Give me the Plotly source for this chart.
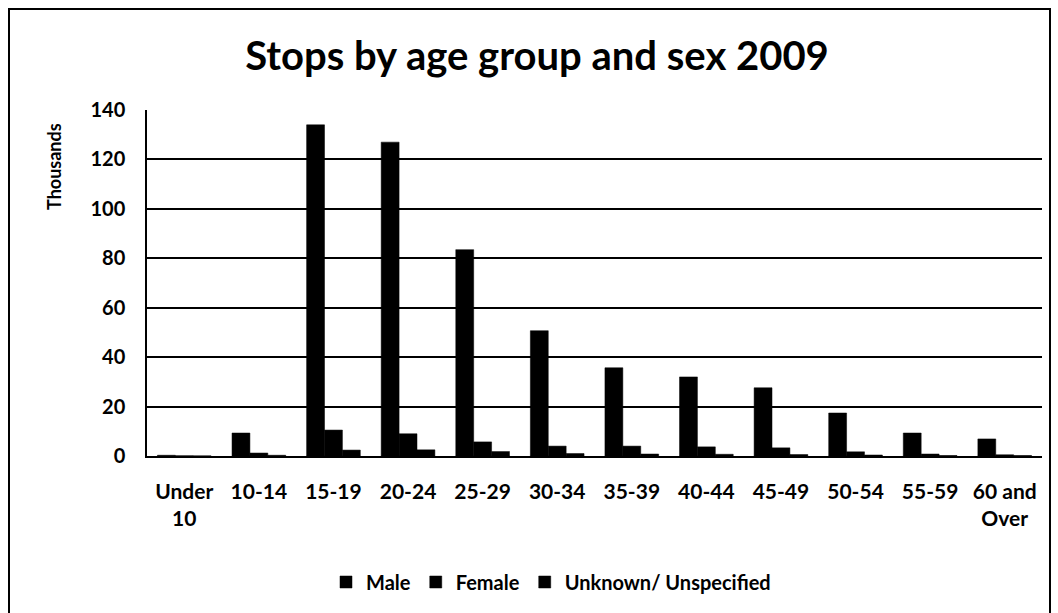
import plotly.graph_objects as go

categories = ["Under<br>10", "10-14", "15-19", "20-24", "25-29", "30-34", "35-39",
              "40-44", "45-49", "50-54", "55-59", "60 and<br>Over"]
male = [0.3, 9.3, 134, 127, 83.5, 50.7, 35.7, 32, 27.6, 17.4, 9.3, 6.9]
female = [0.1, 1.2, 10.5, 9, 5.7, 4, 4, 3.7, 3.3, 1.7, 0.8, 0.5]
unknown = [0.05, 0.3, 2.4, 2.5, 1.8, 1.0, 0.8, 0.7, 0.6, 0.4, 0.2, 0.2]
series_names = ["Male", "Female", "Unknown/ Unspecified"]
y_ticks = [0, 20, 40, 60, 80, 100, 120, 140]

font_family = "Lato, Carlito, Open Sans, sans-serif"

W, H = 1058, 613
L, R, T, B = 147, 16, 110, 157
PW, PH = W - L - R, H - T - B


def px_x(x):
    return (x - L) / PW


def px_y(y):
    return (H - B - y) / PH


fig = go.Figure()
for name, vals in zip(series_names, [male, female, unknown]):
    fig.add_trace(go.Bar(x=categories, y=vals, name=name,
                         marker=dict(color="black", line=dict(color="black", width=0.5))))

fig.update_layout(
    width=W, height=H,
    margin=dict(l=L, r=R, t=T, b=B),
    paper_bgcolor="white", plot_bgcolor="white",
    barmode="group", bargap=0.28, bargroupgap=0,
    title=dict(text="<b>Stops by age group and sex 2009</b>", x=537 / W, xanchor="center",
               xref="container", yref="container",
               y=1 - 56 / H, yanchor="middle",
               font=dict(family=font_family, size=40, color="black")),
    font=dict(family=font_family, color="black"),
    showlegend=True,
    legend=dict(orientation="h", x=px_x(551), xanchor="center", y=px_y(582), yanchor="middle",
                font=dict(family=font_family, size=20, color="black", weight="bold"),
                itemwidth=30, traceorder="normal"),
    xaxis=dict(showline=True, linecolor="black", linewidth=1.5, ticks="",
               ticklabelstandoff=16,
               tickfont=dict(family=font_family, size=21, color="black", weight="bold"),
               showgrid=False),
    yaxis=dict(range=[0, 140], tickvals=y_ticks, showline=True, linecolor="black", linewidth=1.5,
               showgrid=True, gridcolor="black", gridwidth=1.5, zeroline=False,
               ticks="", ticklabelstandoff=16,
               tickfont=dict(family=font_family, size=20, color="black", weight="bold")),
)

fig.add_annotation(text="<b>Thousands</b>", xref="paper", yref="paper",
                   x=px_x(54), y=px_y(167), textangle=-90, showarrow=False,
                   xanchor="center", yanchor="middle",
                   font=dict(family=font_family, size=18, color="black"))

# outer chart border
fig.add_shape(type="rect", xref="paper", yref="paper",
              x0=px_x(9), x1=px_x(1050), y0=px_y(625), y1=px_y(9),
              line=dict(color="black", width=2), fillcolor="rgba(0,0,0,0)", layer="below")

fig.write_html("out.html", config={"displayModeBar": False},
               post_script="document.body.style.margin='0px';")
